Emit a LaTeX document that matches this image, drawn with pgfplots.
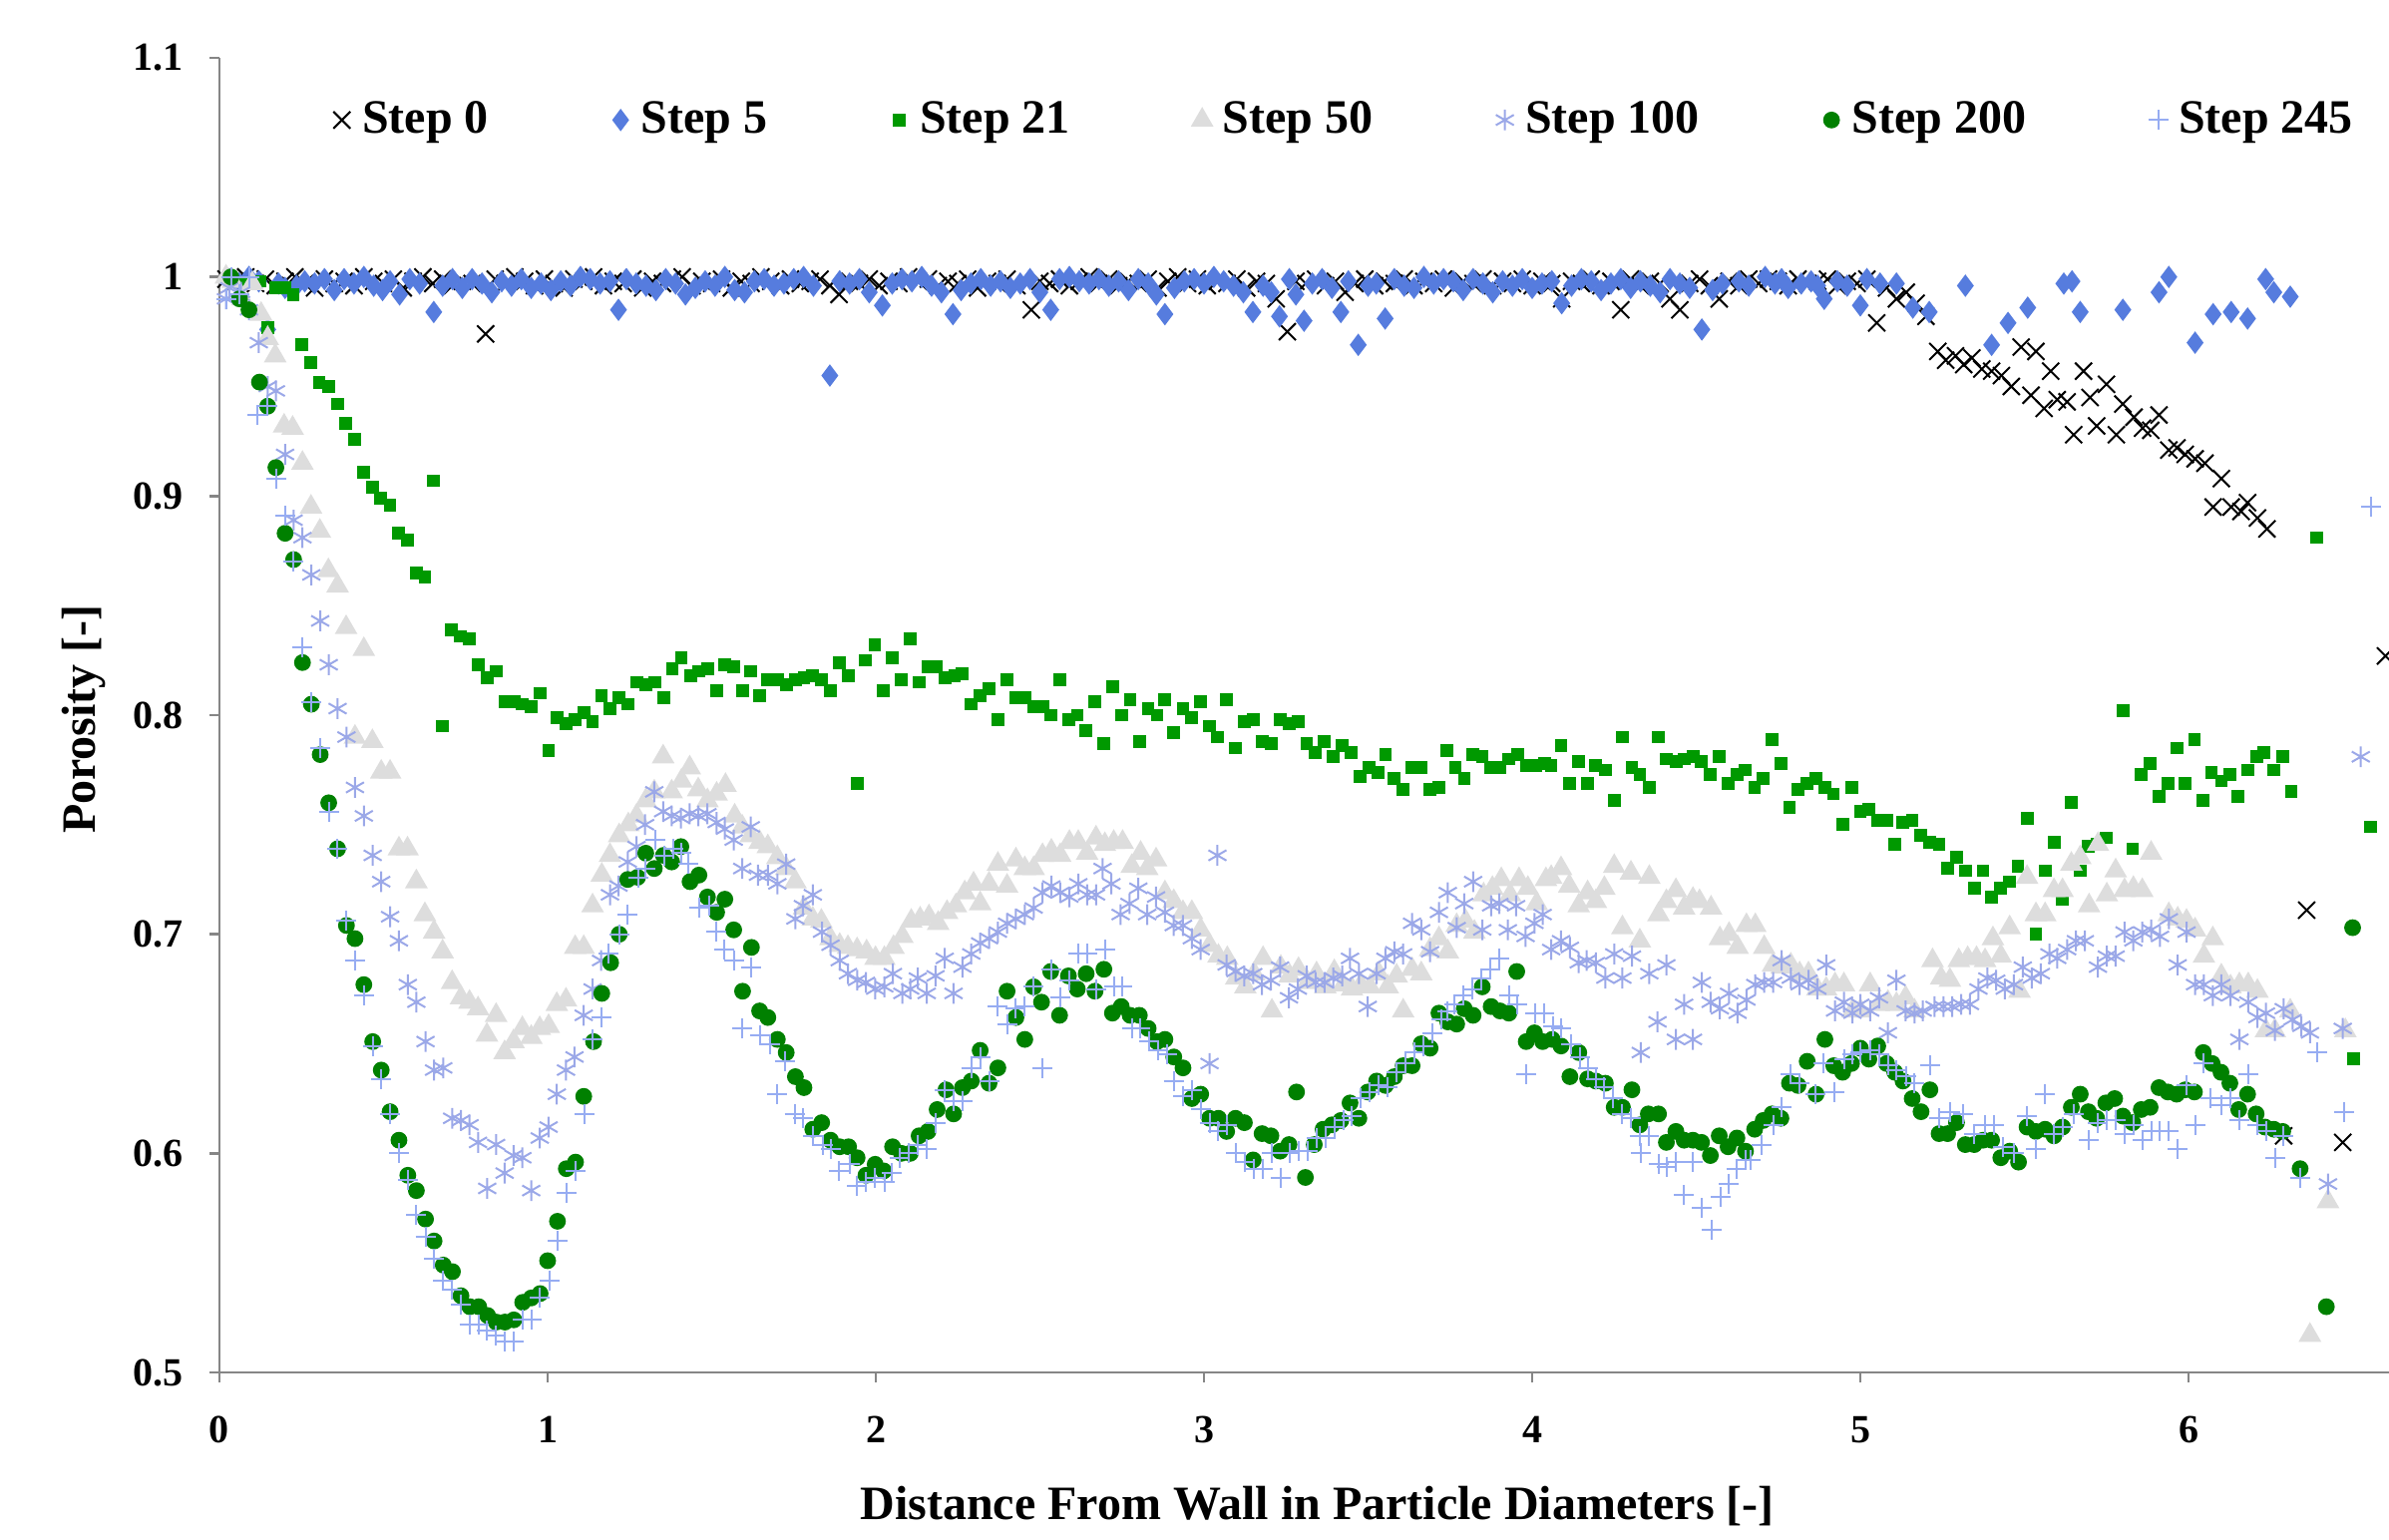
\documentclass[border=0pt]{standalone}
\usepackage{fontspec}
\setmainfont{Liberation Serif}
\usepackage{pgfplots}
\usepackage{pgfplotstable}
\pgfplotsset{compat=1.18}
\definecolor{cs5}{RGB}{86,124,222}
\definecolor{cs21}{RGB}{0,153,0}
\definecolor{cs50}{RGB}{221,221,221}
\definecolor{cs100}{RGB}{155,168,232}
\definecolor{cs200}{RGB}{0,128,0}
\definecolor{cs245}{RGB}{150,172,242}
\definecolor{axgray}{RGB}{134,134,134}
\pgfplotsset{onemark/.style={only marks, legend image code/.code={\draw[##1] plot coordinates {(0pt,0pt)};\path (-2.5pt,0pt) (2.9pt,0pt);}}}

\pgfplotstableread{
x y
0.02 0.999
0.05 0.998
0.08 1.0
0.11 0.997
0.14 0.999
0.17 0.996
0.2 0.998
0.23 1.0
0.26 0.997
0.29 0.995
0.32 0.999
0.35 0.997
0.38 0.998
0.41 0.996
0.44 1.0
0.47 0.998
0.5 0.997
0.53 0.999
0.56 0.995
0.59 0.998
0.62 1.0
0.65 0.997
0.68 0.999
0.71 0.996
0.74 0.998
0.77 0.997
0.811 0.974
0.84 0.999
0.87 0.997
0.9 1.0
0.93 0.998
0.96 0.996
0.99 0.999
1.02 0.997
1.05 0.995
1.08 0.999
1.11 0.998
1.14 1.0
1.17 0.996
1.2 0.998
1.23 0.997
1.26 0.999
1.29 0.995
1.32 0.998
1.35 0.997
1.38 0.999
1.41 1.0
1.44 0.996
1.47 0.998
1.5 0.997
1.53 0.999
1.56 0.995
1.59 0.998
1.62 0.997
1.65 1.0
1.68 0.998
1.71 0.996
1.74 0.999
1.77 0.997
1.8 0.998
1.83 0.999
1.86 0.996
1.888 0.992
1.92 0.998
1.95 0.997
1.98 0.999
2.01 0.996
2.04 0.998
2.07 0.997
2.1 1.0
2.13 0.998
2.16 0.999
2.19 0.996
2.22 0.998
2.25 0.997
2.28 0.999
2.31 0.995
2.34 0.998
2.37 0.997
2.4 0.999
2.43 0.996
2.474 0.985
2.5 0.998
2.53 0.997
2.56 0.999
2.59 0.996
2.62 0.998
2.65 1.0
2.68 0.997
2.71 0.999
2.74 0.996
2.77 0.998
2.8 0.997
2.83 0.999
2.86 0.995
2.89 0.998
2.92 1.0
2.95 0.997
2.98 0.999
3.01 0.996
3.04 0.998
3.07 0.997
3.1 0.999
3.13 0.995
3.16 0.998
3.19 0.997
3.22 0.99
3.254 0.975
3.28 0.998
3.31 0.997
3.34 0.999
3.37 0.996
3.4 0.998
3.43 0.993
3.46 0.997
3.49 0.999
3.52 0.996
3.55 0.998
3.58 0.997
3.61 0.999
3.64 0.996
3.67 0.998
3.7 0.997
3.73 0.999
3.76 0.995
3.79 0.998
3.82 0.997
3.85 0.999
3.88 0.996
3.91 0.998
3.94 0.997
3.97 0.999
4.0 0.996
4.03 0.998
4.06 0.997
4.09 0.99
4.12 0.998
4.15 0.997
4.18 0.999
4.21 0.996
4.24 0.998
4.27 0.985
4.3 0.999
4.33 0.996
4.36 0.998
4.39 0.997
4.42 0.99
4.45 0.985
4.48 0.997
4.51 0.999
4.54 0.996
4.57 0.99
4.6 0.998
4.63 0.996
4.66 0.999
4.69 0.997
4.72 0.999
4.75 0.998
4.78 0.996
4.81 0.999
4.84 0.997
4.87 0.998
4.9 0.999
4.93 0.996
4.96 0.998
4.99 0.997
5.02 0.999
5.05 0.979
5.08 0.995
5.11 0.99
5.14 0.993
5.17 0.988
5.2 0.982
5.236 0.966
5.26 0.962
5.29 0.964
5.315 0.96
5.34 0.963
5.37 0.958
5.4 0.957
5.43 0.955
5.46 0.95
5.49 0.968
5.52 0.946
5.535 0.966
5.56 0.94
5.58 0.957
5.6 0.944
5.63 0.943
5.65 0.928
5.68 0.957
5.7 0.945
5.72 0.932
5.75 0.951
5.78 0.928
5.8 0.942
5.834 0.936
5.86 0.931
5.885 0.93
5.91 0.937
5.94 0.921
5.965 0.922
5.99 0.919
6.02 0.917
6.05 0.915
6.075 0.895
6.1 0.908
6.13 0.895
6.16 0.893
6.18 0.897
6.21 0.89
6.239 0.885
6.29 0.608
6.36 0.711
6.47 0.605
6.6 0.827
}\tzero

\pgfplotstableread{
x y
0.03 0.999
0.06 0.997
0.09 1.0
0.12 0.998
0.147 0.976
0.18 0.997
0.2 0.995
0.235 0.996
0.26 0.998
0.29 0.997
0.32 0.999
0.35 0.994
0.38 0.999
0.41 0.997
0.44 1.0
0.47 0.996
0.497 0.994
0.52 0.998
0.549 0.992
0.58 0.999
0.61 0.997
0.653 0.984
0.68 0.996
0.71 0.999
0.74 0.995
0.77 0.999
0.8 0.997
0.83 0.993
0.86 0.998
0.89 0.996
0.92 0.999
0.95 0.995
0.98 0.997
1.01 0.994
1.04 0.998
1.07 0.996
1.1 1.0
1.13 0.999
1.16 0.997
1.19 0.998
1.216 0.985
1.24 0.999
1.27 0.997
1.3 0.996
1.33 0.994
1.36 0.999
1.39 0.997
1.42 0.992
1.45 0.995
1.48 0.998
1.51 0.996
1.54 1.0
1.57 0.994
1.6 0.993
1.63 0.998
1.66 0.999
1.69 0.996
1.72 0.997
1.75 0.999
1.78 1.0
1.81 0.996
1.86 0.955
1.89 0.998
1.92 0.997
1.95 0.999
1.98 0.993
2.02 0.987
2.05 0.997
2.08 0.999
2.11 0.998
2.14 1.0
2.17 0.996
2.2 0.993
2.235 0.983
2.26 0.994
2.29 0.997
2.32 0.999
2.35 0.996
2.38 0.998
2.41 0.995
2.44 0.997
2.47 0.999
2.5 0.993
2.533 0.985
2.56 0.999
2.59 1.0
2.62 0.998
2.65 0.997
2.68 0.999
2.71 0.996
2.74 0.998
2.77 0.994
2.8 0.999
2.83 0.997
2.855 0.992
2.881 0.983
2.91 0.995
2.94 0.998
2.97 0.999
3.0 0.997
3.03 1.0
3.06 0.998
3.09 0.996
3.12 0.993
3.149 0.984
3.18 0.996
3.205 0.993
3.23 0.982
3.26 0.999
3.28 0.992
3.305 0.98
3.33 0.997
3.36 0.999
3.39 0.995
3.417 0.984
3.44 0.998
3.47 0.969
3.5 0.996
3.525 0.997
3.552 0.981
3.58 0.999
3.61 0.996
3.64 0.995
3.67 1.0
3.7 0.997
3.73 0.999
3.76 0.998
3.79 0.994
3.82 0.999
3.85 0.997
3.88 0.993
3.91 0.998
3.94 0.996
3.97 0.999
4.0 0.995
4.03 0.997
4.06 0.998
4.09 0.988
4.12 0.996
4.15 0.999
4.18 0.998
4.21 0.994
4.24 0.997
4.27 0.999
4.3 0.995
4.33 0.998
4.36 0.996
4.39 0.993
4.42 0.999
4.45 0.997
4.48 0.995
4.517 0.976
4.55 0.994
4.58 0.997
4.63 0.998
4.66 0.996
4.71 1.0
4.74 0.997
4.76 0.999
4.78 0.995
4.82 0.997
4.85 0.998
4.87 0.996
4.89 0.99
4.93 0.998
4.96 0.996
5.0 0.987
5.02 0.999
5.06 0.997
5.11 0.997
5.16 0.986
5.21 0.984
5.32 0.996
5.4 0.969
5.45 0.979
5.51 0.986
5.62 0.997
5.645 0.998
5.67 0.984
5.8 0.985
5.91 0.993
5.94 1.0
6.02 0.97
6.075 0.983
6.13 0.984
6.18 0.981
6.235 0.999
6.26 0.993
6.31 0.991
}\tfive

\pgfplotstableread{
x y
0.035 0.998
0.08 0.997
0.122 0.998
0.147 0.977
0.172 0.995
0.198 0.995
0.225 0.992
0.251 0.969
0.279 0.961
0.304 0.952
0.332 0.95
0.359 0.942
0.385 0.933
0.412 0.926
0.439 0.911
0.466 0.904
0.492 0.899
0.52 0.896
0.546 0.883
0.573 0.88
0.6 0.865
0.626 0.863
0.653 0.907
0.68 0.795
0.707 0.839
0.734 0.836
0.762 0.835
0.788 0.823
0.815 0.817
0.843 0.82
0.87 0.806
0.897 0.806
0.923 0.805
0.95 0.804
0.977 0.81
1.003 0.784
1.03 0.799
1.057 0.796
1.084 0.798
1.11 0.801
1.137 0.797
1.164 0.809
1.19 0.803
1.218 0.808
1.245 0.805
1.272 0.815
1.3 0.814
1.326 0.815
1.353 0.808
1.38 0.821
1.407 0.826
1.435 0.818
1.461 0.82
1.487 0.821
1.515 0.811
1.54 0.823
1.567 0.822
1.593 0.811
1.619 0.82
1.646 0.809
1.671 0.816
1.7 0.816
1.727 0.814
1.755 0.816
1.781 0.817
1.808 0.818
1.834 0.816
1.862 0.811
1.89 0.824
1.917 0.818
1.943 0.769
1.969 0.825
1.997 0.832
2.022 0.811
2.05 0.826
2.077 0.816
2.104 0.835
2.131 0.815
2.158 0.822
2.185 0.822
2.212 0.817
2.24 0.818
2.264 0.819
2.291 0.805
2.318 0.809
2.345 0.812
2.372 0.798
2.4 0.816
2.427 0.808
2.454 0.808
2.481 0.804
2.508 0.804
2.533 0.8
2.56 0.816
2.587 0.798
2.614 0.8
2.64 0.793
2.667 0.806
2.694 0.787
2.721 0.813
2.748 0.8
2.775 0.807
2.803 0.788
2.83 0.803
2.857 0.8
2.881 0.807
2.908 0.792
2.936 0.803
2.963 0.799
2.99 0.806
3.017 0.795
3.041 0.79
3.069 0.807
3.096 0.785
3.123 0.797
3.15 0.798
3.177 0.788
3.204 0.787
3.232 0.798
3.259 0.796
3.286 0.797
3.313 0.787
3.34 0.783
3.367 0.788
3.394 0.781
3.421 0.786
3.449 0.783
3.476 0.772
3.503 0.776
3.53 0.774
3.553 0.782
3.58 0.771
3.607 0.766
3.634 0.776
3.662 0.776
3.689 0.766
3.716 0.767
3.739 0.784
3.766 0.776
3.793 0.771
3.82 0.782
3.848 0.781
3.875 0.776
3.902 0.776
3.929 0.78
3.956 0.782
3.983 0.777
4.01 0.777
4.037 0.778
4.058 0.777
4.088 0.786
4.115 0.769
4.142 0.779
4.169 0.769
4.194 0.777
4.223 0.775
4.25 0.761
4.275 0.79
4.304 0.776
4.328 0.773
4.357 0.767
4.385 0.79
4.409 0.78
4.438 0.779
4.463 0.78
4.49 0.781
4.516 0.779
4.543 0.773
4.57 0.781
4.597 0.769
4.624 0.773
4.65 0.775
4.678 0.767
4.704 0.771
4.731 0.789
4.758 0.778
4.784 0.758
4.81 0.766
4.838 0.769
4.865 0.771
4.892 0.767
4.918 0.764
4.946 0.75
4.973 0.767
5.0 0.756
5.026 0.757
5.053 0.752
5.08 0.752
5.105 0.741
5.13 0.751
5.158 0.752
5.185 0.745
5.212 0.742
5.24 0.741
5.266 0.73
5.293 0.735
5.32 0.729
5.347 0.721
5.374 0.729
5.4 0.717
5.428 0.721
5.455 0.724
5.48 0.731
5.508 0.753
5.535 0.70
5.563 0.729
5.59 0.742
5.616 0.716
5.643 0.76
5.67 0.729
5.695 0.74
5.72 0.741
5.75 0.744
5.80 0.802
5.83 0.739
5.856 0.773
5.883 0.778
5.91 0.763
5.937 0.769
5.964 0.785
5.99 0.769
6.018 0.789
6.045 0.761
6.07 0.774
6.1 0.77
6.125 0.773
6.15 0.763
6.18 0.775
6.207 0.781
6.23 0.783
6.26 0.775
6.286 0.781
6.313 0.765
6.39 0.881
6.503 0.643
6.555 0.749
}\ttwentyone

\pgfplotstableread{
x y
0.02 1.0
0.04 0.998
0.07 0.99
0.1 0.997
0.127 0.983
0.147 0.972
0.17 0.964
0.197 0.932
0.223 0.931
0.253 0.915
0.279 0.895
0.306 0.884
0.332 0.866
0.36 0.859
0.386 0.84
0.413 0.79
0.44 0.83
0.466 0.788
0.493 0.774
0.52 0.774
0.547 0.739
0.573 0.739
0.6 0.724
0.626 0.709
0.654 0.701
0.68 0.692
0.709 0.678
0.736 0.671
0.762 0.669
0.788 0.666
0.815 0.654
0.843 0.663
0.869 0.646
0.896 0.651
0.923 0.657
0.95 0.653
0.976 0.657
1.003 0.658
1.028 0.668
1.056 0.67
1.084 0.694
1.11 0.694
1.137 0.713
1.165 0.727
1.19 0.736
1.218 0.745
1.246 0.75
1.271 0.754
1.299 0.761
1.325 0.765
1.352 0.781
1.378 0.765
1.408 0.77
1.433 0.776
1.459 0.766
1.487 0.761
1.515 0.764
1.542 0.768
1.57 0.754
1.593 0.749
1.619 0.745
1.646 0.742
1.671 0.74
1.7 0.735
1.727 0.73
1.755 0.724
1.781 0.712
1.808 0.707
1.834 0.706
1.862 0.698
1.89 0.695
1.915 0.694
1.943 0.693
1.972 0.692
1.999 0.689
2.026 0.689
2.054 0.694
2.081 0.699
2.108 0.706
2.135 0.707
2.162 0.708
2.19 0.705
2.217 0.71
2.244 0.713
2.271 0.719
2.298 0.723
2.318 0.714
2.345 0.723
2.372 0.732
2.4 0.722
2.427 0.734
2.454 0.73
2.481 0.73
2.508 0.736
2.535 0.738
2.562 0.736
2.59 0.742
2.617 0.742
2.644 0.737
2.671 0.744
2.698 0.741
2.725 0.742
2.752 0.742
2.78 0.731
2.807 0.737
2.827 0.73
2.854 0.734
2.881 0.719
2.908 0.715
2.936 0.71
2.963 0.71
2.99 0.702
3.017 0.695
3.044 0.69
3.071 0.689
3.098 0.68
3.126 0.676
3.153 0.682
3.18 0.689
3.207 0.665
3.234 0.685
3.261 0.681
3.288 0.684
3.316 0.678
3.343 0.682
3.37 0.676
3.397 0.683
3.424 0.677
3.451 0.675
3.478 0.677
3.506 0.676
3.533 0.682
3.56 0.676
3.587 0.681
3.607 0.665
3.634 0.684
3.662 0.682
3.689 0.693
3.716 0.698
3.743 0.692
3.77 0.704
3.797 0.706
3.824 0.701
3.852 0.718
3.879 0.721
3.906 0.725
3.933 0.718
3.96 0.725
3.987 0.721
4.014 0.714
4.042 0.725
4.058 0.726
4.088 0.73
4.113 0.722
4.142 0.713
4.169 0.719
4.194 0.715
4.22 0.721
4.25 0.731
4.275 0.703
4.301 0.728
4.328 0.697
4.357 0.726
4.385 0.709
4.409 0.715
4.438 0.72
4.463 0.712
4.49 0.716
4.51 0.715
4.545 0.712
4.572 0.698
4.6 0.7
4.626 0.694
4.653 0.704
4.68 0.704
4.707 0.694
4.734 0.686
4.76 0.685
4.788 0.686
4.815 0.682
4.842 0.682
4.869 0.675
4.896 0.675
4.923 0.677
4.95 0.677
4.976 0.665
5.0 0.665
5.03 0.677
5.057 0.668
5.084 0.669
5.11 0.668
5.138 0.671
5.165 0.665
5.22 0.688
5.246 0.68
5.273 0.679
5.3 0.688
5.327 0.689
5.354 0.689
5.38 0.688
5.404 0.698
5.428 0.69
5.455 0.703
5.485 0.674
5.508 0.726
5.535 0.709
5.563 0.709
5.59 0.72
5.616 0.72
5.643 0.732
5.67 0.735
5.697 0.713
5.724 0.741
5.751 0.718
5.778 0.729
5.805 0.72
5.832 0.721
5.859 0.72
5.886 0.737
5.94 0.709
5.967 0.707
5.994 0.706
6.02 0.702
6.047 0.69
6.074 0.698
6.1 0.681
6.128 0.676
6.155 0.677
6.182 0.677
6.21 0.674
6.236 0.656
6.263 0.656
6.31 0.665
6.37 0.517
6.425 0.578
6.478 0.656
}\tfifty

\pgfplotstableread{
x y
0.02 0.99
0.03 0.995
0.066 0.993
0.09 0.985
0.12 0.97
0.147 0.95
0.172 0.948
0.2 0.919
0.226 0.889
0.253 0.881
0.28 0.864
0.307 0.843
0.333 0.823
0.36 0.803
0.387 0.79
0.413 0.767
0.44 0.754
0.467 0.736
0.493 0.724
0.52 0.708
0.547 0.697
0.574 0.677
0.6 0.669
0.628 0.651
0.654 0.638
0.682 0.639
0.709 0.616
0.736 0.615
0.762 0.613
0.788 0.605
0.816 0.584
0.843 0.604
0.869 0.591
0.896 0.599
0.923 0.598
0.95 0.583
0.976 0.607
1.003 0.612
1.028 0.627
1.056 0.638
1.082 0.644
1.11 0.663
1.137 0.675
1.163 0.688
1.19 0.718
1.216 0.722
1.244 0.733
1.271 0.74
1.297 0.75
1.325 0.765
1.352 0.756
1.378 0.754
1.406 0.753
1.433 0.755
1.459 0.754
1.487 0.755
1.515 0.751
1.54 0.748
1.567 0.743
1.593 0.73
1.619 0.749
1.641 0.727
1.671 0.727
1.7 0.723
1.727 0.732
1.755 0.707
1.778 0.713
1.808 0.718
1.836 0.701
1.862 0.695
1.89 0.688
1.915 0.682
1.943 0.679
1.97 0.678
1.998 0.675
2.026 0.676
2.052 0.682
2.081 0.673
2.105 0.675
2.128 0.68
2.155 0.673
2.182 0.681
2.21 0.689
2.237 0.673
2.264 0.685
2.291 0.691
2.318 0.696
2.345 0.698
2.372 0.701
2.4 0.705
2.427 0.707
2.454 0.709
2.481 0.712
2.508 0.719
2.535 0.722
2.562 0.719
2.59 0.717
2.617 0.723
2.644 0.718
2.671 0.718
2.691 0.73
2.718 0.723
2.746 0.709
2.773 0.714
2.8 0.721
2.827 0.709
2.854 0.717
2.881 0.71
2.908 0.704
2.936 0.704
2.963 0.698
2.99 0.693
3.017 0.641
3.041 0.736
3.069 0.686
3.096 0.683
3.123 0.681
3.15 0.682
3.177 0.677
3.204 0.679
3.232 0.685
3.259 0.671
3.286 0.675
3.313 0.681
3.34 0.678
3.367 0.678
3.394 0.68
3.421 0.681
3.445 0.689
3.472 0.682
3.499 0.667
3.526 0.682
3.553 0.689
3.58 0.692
3.607 0.691
3.634 0.705
3.662 0.702
3.689 0.692
3.716 0.71
3.743 0.719
3.77 0.703
3.793 0.714
3.82 0.724
3.848 0.702
3.875 0.713
3.9 0.714
3.926 0.702
3.951 0.713
3.98 0.699
4.007 0.705
4.032 0.709
4.058 0.693
4.088 0.697
4.115 0.694
4.142 0.687
4.166 0.688
4.194 0.687
4.223 0.68
4.25 0.691
4.275 0.68
4.304 0.69
4.331 0.646
4.357 0.682
4.382 0.66
4.409 0.686
4.438 0.652
4.463 0.668
4.49 0.652
4.517 0.678
4.544 0.669
4.572 0.666
4.6 0.673
4.626 0.664
4.653 0.67
4.68 0.677
4.707 0.678
4.734 0.678
4.76 0.688
4.788 0.68
4.815 0.677
4.842 0.679
4.869 0.675
4.896 0.686
4.923 0.665
4.95 0.669
4.976 0.664
5.0 0.668
5.03 0.665
5.057 0.671
5.084 0.655
5.11 0.679
5.138 0.665
5.165 0.664
5.19 0.665
5.226 0.667
5.253 0.667
5.28 0.667
5.307 0.668
5.334 0.668
5.36 0.675
5.387 0.68
5.414 0.679
5.44 0.675
5.468 0.677
5.495 0.685
5.522 0.68
5.55 0.682
5.576 0.691
5.6 0.689
5.63 0.693
5.657 0.697
5.684 0.697
5.724 0.685
5.751 0.69
5.778 0.69
5.805 0.701
5.832 0.697
5.859 0.701
5.886 0.702
5.913 0.699
5.94 0.707
5.967 0.686
5.994 0.701
6.02 0.677
6.047 0.677
6.074 0.672
6.1 0.677
6.128 0.672
6.155 0.652
6.182 0.669
6.21 0.662
6.236 0.664
6.263 0.656
6.29 0.666
6.317 0.661
6.344 0.658
6.37 0.655
6.425 0.586
6.47 0.657
6.525 0.781
}\thundred

\pgfplotstableread{
x y
0.035 1.0
0.061 0.99
0.09 0.985
0.122 0.952
0.147 0.941
0.172 0.913
0.2 0.883
0.226 0.871
0.253 0.824
0.28 0.805
0.307 0.782
0.333 0.76
0.36 0.739
0.387 0.704
0.413 0.698
0.44 0.677
0.467 0.651
0.493 0.638
0.52 0.619
0.547 0.606
0.574 0.59
0.6 0.583
0.628 0.57
0.654 0.56
0.682 0.549
0.71 0.546
0.736 0.535
0.763 0.53
0.79 0.53
0.817 0.526
0.843 0.523
0.87 0.523
0.897 0.524
0.924 0.532
0.95 0.534
0.977 0.536
1.0 0.551
1.03 0.569
1.057 0.593
1.085 0.596
1.11 0.626
1.14 0.651
1.165 0.673
1.192 0.687
1.218 0.7
1.244 0.725
1.274 0.726
1.299 0.737
1.325 0.73
1.353 0.736
1.378 0.733
1.406 0.74
1.434 0.724
1.461 0.727
1.487 0.717
1.515 0.71
1.54 0.716
1.567 0.702
1.594 0.674
1.621 0.694
1.646 0.665
1.671 0.662
1.7 0.652
1.727 0.646
1.755 0.635
1.781 0.63
1.808 0.611
1.835 0.614
1.862 0.606
1.89 0.603
1.917 0.603
1.943 0.598
1.97 0.59
1.998 0.595
2.024 0.592
2.051 0.603
2.078 0.6
2.105 0.6
2.132 0.608
2.159 0.61
2.187 0.62
2.214 0.629
2.237 0.618
2.264 0.63
2.291 0.633
2.318 0.647
2.345 0.632
2.372 0.639
2.4 0.674
2.427 0.662
2.454 0.652
2.481 0.676
2.505 0.669
2.533 0.683
2.56 0.663
2.587 0.681
2.614 0.675
2.641 0.682
2.668 0.674
2.695 0.684
2.721 0.664
2.748 0.667
2.775 0.663
2.803 0.663
2.83 0.657
2.857 0.651
2.881 0.652
2.908 0.644
2.936 0.639
2.963 0.625
2.99 0.627
3.017 0.616
3.044 0.616
3.069 0.61
3.096 0.616
3.123 0.614
3.15 0.597
3.177 0.609
3.204 0.608
3.232 0.601
3.259 0.604
3.282 0.628
3.309 0.589
3.336 0.604
3.363 0.611
3.39 0.613
3.417 0.615
3.445 0.623
3.472 0.616
3.499 0.628
3.526 0.633
3.553 0.631
3.58 0.635
3.607 0.64
3.634 0.64
3.662 0.65
3.689 0.648
3.716 0.664
3.743 0.66
3.77 0.659
3.793 0.666
3.82 0.663
3.848 0.676
3.875 0.667
3.902 0.665
3.929 0.664
3.953 0.683
3.982 0.651
4.007 0.655
4.032 0.651
4.061 0.652
4.088 0.649
4.115 0.635
4.142 0.646
4.169 0.634
4.194 0.633
4.223 0.632
4.25 0.621
4.275 0.621
4.304 0.629
4.328 0.613
4.354 0.618
4.385 0.618
4.409 0.605
4.438 0.61
4.463 0.606
4.49 0.606
4.516 0.605
4.543 0.599
4.57 0.608
4.597 0.603
4.624 0.607
4.65 0.601
4.678 0.611
4.704 0.615
4.731 0.618
4.758 0.616
4.784 0.632
4.81 0.631
4.838 0.642
4.865 0.627
4.892 0.652
4.919 0.64
4.946 0.637
4.973 0.641
5.0 0.648
5.026 0.643
5.053 0.649
5.08 0.641
5.105 0.637
5.13 0.633
5.158 0.625
5.185 0.619
5.212 0.629
5.24 0.609
5.266 0.609
5.293 0.614
5.32 0.604
5.347 0.604
5.374 0.606
5.4 0.606
5.428 0.598
5.455 0.601
5.482 0.596
5.508 0.612
5.535 0.61
5.563 0.611
5.59 0.608
5.616 0.612
5.643 0.621
5.67 0.627
5.695 0.619
5.72 0.616
5.748 0.623
5.775 0.625
5.8 0.617
5.83 0.614
5.856 0.62
5.883 0.621
5.91 0.63
5.937 0.628
5.964 0.627
5.99 0.629
6.018 0.628
6.045 0.646
6.072 0.641
6.099 0.637
6.126 0.632
6.153 0.62
6.18 0.627
6.206 0.618
6.233 0.612
6.26 0.611
6.287 0.61
6.34 0.593
6.42 0.53
6.5 0.703
}\ttwohundred

\pgfplotstableread{
x y
0.02 0.99
0.035 1.0
0.061 0.992
0.091 1.0
0.117 0.937
0.147 0.941
0.172 0.908
0.2 0.891
0.226 0.87
0.253 0.831
0.28 0.806
0.307 0.785
0.333 0.756
0.36 0.739
0.387 0.706
0.413 0.688
0.44 0.672
0.467 0.649
0.493 0.634
0.52 0.618
0.547 0.6
0.574 0.588
0.6 0.572
0.628 0.562
0.654 0.552
0.682 0.542
0.709 0.538
0.736 0.531
0.762 0.522
0.79 0.522
0.816 0.519
0.843 0.517
0.869 0.514
0.896 0.514
0.923 0.524
0.95 0.524
0.976 0.534
1.005 0.542
1.031 0.56
1.058 0.582
1.084 0.592
1.112 0.618
1.138 0.652
1.163 0.662
1.185 0.691
1.218 0.7
1.244 0.709
1.276 0.726
1.299 0.73
1.327 0.743
1.355 0.736
1.383 0.739
1.408 0.737
1.428 0.732
1.461 0.712
1.491 0.713
1.515 0.701
1.538 0.693
1.568 0.688
1.593 0.657
1.619 0.685
1.646 0.654
1.677 0.65
1.7 0.627
1.722 0.642
1.753 0.618
1.778 0.616
1.808 0.608
1.839 0.604
1.864 0.602
1.889 0.592
1.92 0.595
1.943 0.585
1.97 0.587
1.996 0.589
2.026 0.587
2.048 0.591
2.074 0.598
2.1 0.6
2.128 0.604
2.155 0.602
2.182 0.614
2.21 0.629
2.237 0.624
2.264 0.624
2.291 0.639
2.318 0.644
2.345 0.633
2.372 0.667
2.4 0.659
2.427 0.666
2.454 0.667
2.481 0.676
2.508 0.639
2.535 0.684
2.562 0.671
2.59 0.679
2.617 0.691
2.644 0.691
2.671 0.675
2.698 0.693
2.725 0.676
2.752 0.676
2.78 0.657
2.806 0.657
2.834 0.651
2.861 0.647
2.888 0.645
2.908 0.633
2.936 0.626
2.963 0.629
2.99 0.62
3.017 0.614
3.044 0.61
3.071 0.613
3.098 0.6
3.126 0.596
3.153 0.593
3.18 0.593
3.207 0.6
3.234 0.589
3.261 0.6
3.288 0.601
3.316 0.601
3.343 0.607
3.37 0.607
3.397 0.612
3.424 0.615
3.451 0.617
3.478 0.625
3.506 0.628
3.533 0.631
3.56 0.63
3.587 0.637
3.614 0.641
3.641 0.646
3.668 0.649
3.696 0.655
3.723 0.661
3.743 0.665
3.763 0.668
3.791 0.672
3.818 0.675
3.845 0.68
3.872 0.684
3.9 0.689
3.929 0.672
3.955 0.668
3.982 0.636
4.01 0.664
4.037 0.664
4.063 0.658
4.088 0.657
4.119 0.65
4.146 0.644
4.169 0.639
4.194 0.634
4.22 0.63
4.245 0.625
4.273 0.618
4.301 0.616
4.328 0.608
4.331 0.6
4.357 0.608
4.385 0.595
4.409 0.594
4.438 0.596
4.463 0.581
4.49 0.596
4.518 0.575
4.547 0.565
4.575 0.58
4.6 0.586
4.622 0.593
4.65 0.597
4.667 0.597
4.70 0.604
4.734 0.613
4.76 0.621
4.788 0.636
4.815 0.632
4.862 0.627
4.889 0.641
4.922 0.628
4.95 0.643
4.976 0.645
5.0 0.646
5.03 0.647
5.057 0.645
5.085 0.64
5.11 0.638
5.14 0.635
5.165 0.632
5.212 0.64
5.24 0.616
5.273 0.619
5.313 0.618
5.347 0.609
5.38 0.613
5.408 0.613
5.435 0.603
5.468 0.6
5.508 0.617
5.535 0.602
5.563 0.627
5.59 0.609
5.616 0.612
5.65 0.618
5.697 0.606
5.724 0.614
5.751 0.615
5.778 0.615
5.805 0.609
5.832 0.613
5.859 0.606
5.886 0.61
5.913 0.61
5.94 0.61
5.967 0.602
5.994 0.631
6.02 0.613
6.047 0.641
6.068 0.625
6.1 0.622
6.128 0.625
6.155 0.615
6.182 0.636
6.21 0.613
6.236 0.61
6.263 0.598
6.29 0.608
6.34 0.589
6.393 0.646
6.475 0.619
6.556 0.895
}\ttwofortyfive

\begin{document}
\begin{tikzpicture}
\begin{axis}[
  name=ax,
  width=543.75pt, height=329.5pt, scale only axis,
  xmin=0, xmax=6.611, ymin=0.5, ymax=1.1,
  axis lines=left,
  axis line style={-, draw=axgray, line width=0.6pt},
  tick align=outside,
  major tick length=2.5pt,
  tick style={draw=axgray, line width=0.6pt},
  xtick={0,1,2,3,4,5,6},
  ytick={0.5,0.6,0.7,0.8,0.9,1,1.1},
  /pgf/number format/assume math mode=true,
  ticklabel style={font=\bfseries\fontsize{10}{12}\selectfont},
  xticklabel style={yshift=-5pt},
  yticklabel style={xshift=-3pt},
  xlabel={Distance From Wall in Particle Diameters [-]},
  ylabel={Porosity [-]},
  every axis x label/.style={at={(axis description cs:0.506,-0.1017)}, anchor=center, font=\bfseries\fontsize{12}{14}\selectfont},
  every axis y label/.style={at={(axis description cs:-0.0625,0.497)}, rotate=90, anchor=center, font=\bfseries\fontsize{12}{14}\selectfont},
  legend columns=7,
  legend style={draw=none, fill=none, at={(axis description cs:0.0511,0.9527)}, anchor=west, inner sep=0pt,
    font=\bfseries\fontsize{12}{14}\selectfont,
    /tikz/every even column/.append style={column sep=28.4pt}},
]
\addplot[onemark, color=black, mark=x, mark size=3pt, mark options={line width=0.5pt}] table {\tzero};
\addlegendentry{Step 0}
\addplot[onemark, color=cs5, mark=diamond*, mark size=2.5pt] table {\tfive};
\addlegendentry{Step 5}
\addplot[onemark, color=cs21, mark=square*, mark size=1.4pt] table {\ttwentyone};
\addlegendentry{Step 21}
\addplot[onemark, color=cs50, mark=triangle*, mark size=2.9pt] table {\tfifty};
\addlegendentry{Step 50}
\addplot[onemark, color=cs100, mark=asterisk, mark size=2.6pt, mark options={line width=0.5pt}] table {\thundred};
\addlegendentry{Step 100}
\addplot[onemark, color=cs200, mark=*, mark size=1.9pt] table {\ttwohundred};
\addlegendentry{Step 200}
\addplot[onemark, color=cs245, mark=+, mark size=2.5pt, mark options={line width=0.5pt}] table {\ttwofortyfive};
\addlegendentry{Step 245}
\end{axis}
\pgfresetboundingbox
\path ([shift={(-55pt,-41.75pt)}]ax.south west) rectangle ([shift={(0pt,14.5pt)}]ax.north east);
\end{tikzpicture}
\end{document}
